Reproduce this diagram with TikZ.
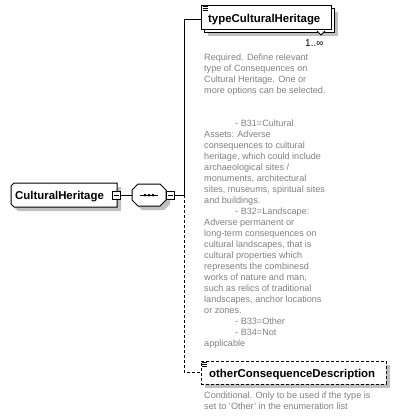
\documentclass[tikz,border=0pt]{standalone}
\usepackage{fontspec}
\setmainfont{Liberation Sans}
\definecolor{shadowgray}{RGB}{192,192,192}
\definecolor{descgray}{RGB}{128,128,128}
\tikzset{
  slot/.style={rectangle, inner sep=0pt, draw=none},
  elbox/.style={rectangle, inner sep=0pt, draw=black, fill=white, line width=1pt},
  optbox/.style={rectangle, inner sep=0pt, draw=black, fill=white, line width=1pt, dash pattern=on 3pt off 2pt},
  shadowbox/.style={rectangle, inner sep=0pt, draw=none, fill=shadowgray},
  lbl/.style={font=\fontsize{11.4}{13}\selectfont\bfseries, anchor=base west, inner sep=0pt},
  desc/.style={font=\fontsize{9.1}{11}\selectfont, text=descgray, align=left, anchor=north west, inner sep=0pt},
  minusbox/.style={rectangle, draw=black, fill=white, line width=0.8pt, minimum size=8pt, inner sep=0pt,
    path picture={\draw[line width=0.8pt] ([xshift=1.5pt]path picture bounding box.west) -- ([xshift=-1.5pt]path picture bounding box.east);}},
  conn/.style={line width=1pt},
  dconn/.style={line width=1pt, dash pattern=on 3pt off 2pt},
  icon/.style={line width=0.7pt},
}
\begin{document}
\begin{tikzpicture}[x=1pt,y=-1pt]
\useasboundingbox (0,0) rectangle (400,418);

% ---------- CulturalHeritage ----------
\fill[shadowgray] (18,187) -- (121,187) -- (121,211) -- (18,211) -- (15,208) -- (15,190) -- cycle;
\draw[line width=1pt, fill=white] (14,183) -- (117,183) -- (117,207) -- (14,207) -- (11,204) -- (11,186) -- cycle;
\node[slot, minimum width=106pt, minimum height=24pt] (ch) at (64,195) {};
\node[lbl] (chlbl) at (15,199) {CulturalHeritage};
\node[minusbox] (chm) at (116,195) {};

% ---------- sequence ----------
\fill[shadowgray] (142,188) -- (164,188) -- (170,194) -- (170,204) -- (164,210) -- (142,210) -- (136,204) -- (136,194) -- cycle;
\draw[line width=1pt, fill=white] (138,184) -- (160,184) -- (166,190) -- (166,200) -- (160,206) -- (138,206) -- (132,200) -- (132,190) -- cycle;
\node[slot, minimum width=34pt, minimum height=22pt] (seq) at (149,195) {};
\draw[line width=1pt] (140,195) -- (158,195);
\fill (145,195) circle (1.5pt) (149,195) circle (1.5pt) (153,195) circle (1.5pt);
\node[minusbox] (sqm) at (170,195) {};

% ---------- connectors ----------
\coordinate (jn) at (184,195);
\draw[conn] (chm.east) -- (seq.west);
\draw[conn] (sqm.east) -- (jn);

% ---------- typeCulturalHeritage ----------
\node[shadowbox, minimum width=130pt, minimum height=24pt] (tchs) at (273,24) {};
\node[elbox, minimum width=130pt, minimum height=24pt] (tchb) at (269,20) {};
\node[elbox, minimum width=130pt, minimum height=24pt] (tch) at (266,17) {};
\draw[icon] (203,6.5) -- (208,6.5) (203,8.5) -- (208,8.5) (203,10.5) -- (208,10.5);
\node[lbl] (tchlbl) at (208,22) {typeCulturalHeritage};
\draw[line width=0.8pt, fill=white] (317,31) -- (321,35) -- (325,31);
\node[font=\fontsize{10}{12}\selectfont, anchor=base west, inner sep=0pt] (tchocc) at (305,46) {1..∞};
\draw[conn] (jn) |- ([yshift=-2pt]tch.west);

\node[desc] (tchdesc) at (204,54) {Required. Define relevant\\
type of Consequences on\\
Cultural Heritage. One or\\
more options can be selected.\\[22pt]
\hspace*{31pt}- B31=Cultural\\
Assets: Adverse\\
consequences to cultural\\
heritage, which could include\\
archaeological sites /\\
monuments, architectural\\
sites, museums, spiritual sites\\
and buildings.\\
\hspace*{31pt}- B32=Landscape:\\
Adverse permanent or\\
long-term consequences on\\
cultural landscapes, that is\\
cultural properties which\\
represents the combinesd\\
works of nature and man,\\
such as relics of traditional\\
landscapes, anchor locations\\
or zones.\\
\hspace*{31pt}- B33=Other\\
\hspace*{31pt}- B34=Not\\
applicable};

% ---------- otherConsequenceDescription ----------
\node[shadowbox, minimum width=185pt, minimum height=23pt] (ocds) at (297.5,376.5) {};
\node[optbox, minimum width=185pt, minimum height=23pt] (ocd) at (293.5,372.5) {};
\draw[icon] (202,362.5) -- (207,362.5) (202,364.5) -- (207,364.5) (202,366.5) -- (207,366.5);
\node[lbl] (ocdlbl) at (209,377) {otherConsequenceDescription};
\draw[dconn] (jn) |- (ocd.west);

\node[desc] (ocddesc) at (204,392) {Conditional. Only to be used if the type is\\
set to 'Other' in the enumeration list};
\end{tikzpicture}
\end{document}
